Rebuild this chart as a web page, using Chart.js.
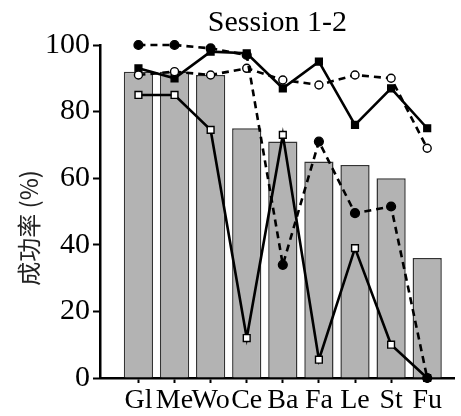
<!DOCTYPE html>
<html>
<head>
<meta charset="utf-8">
<script src="https://cdn.jsdelivr.net/npm/chart.js@4.4.0/dist/chart.umd.min.js"></script>
<style>
  html, body { margin: 0; padding: 0; background: #fff; }
</style>
</head>
<body>
<canvas id="chart" width="461" height="416"></canvas>
<script>
// values
const categories = ['Gl', 'Me', 'Wo', 'Ce', 'Ba', 'Fa', 'Le', 'St', 'Fu'];
const barValues = [92, 92, 91, 75, 71, 65, 64, 60, 36];
const filledCircles = [100, 100, 99, 97, 34, 71, 49.5, 51.5, 0];
const filledSquares = [93, 90, 98, 97.5, 87, 95, 76, 87, 75];
const openCircles = [91, 92, 91, 93, 89.5, 88, 91, 90, 69];
const openSquares = [85, 85, 74.5, 12, 73, 5.5, 39, 10, 0];

const serif = '"Liberation Serif", "Times New Roman", serif';

function toPoints(values) {
    return values.map((v, i) => ({ x: i, y: v }));
}

function lineSet(values, style, filled, dashed) {
    return {
        type: 'line',
        data: toPoints(values),
        borderColor: '#000',
        borderWidth: 2.6,
        borderDash: dashed ? [7, 5] : [],
        pointStyle: style,
        pointRadius: style === 'rect' ? 4.8 : (filled ? 4.4 : 4),
        pointBorderWidth: 1.4,
        pointBorderColor: '#000',
        pointBackgroundColor: filled ? '#000' : '#fff',
        tension: 0,
        clip: false,
        order: 0
    };
}

// rotated y title, drawn by hand so it can sit a bit lower than the axis middle
const yTitle = {
    id: 'yTitle',
    afterDraw(chart) {
        const ctx = chart.ctx;
        ctx.save();
        ctx.translate(29, 228);
        ctx.rotate(-Math.PI / 2);
        ctx.font = '24px "Noto Sans CJK SC"';
        ctx.fillStyle = '#222';
        ctx.textAlign = 'center';
        ctx.textBaseline = 'middle';
        ctx.fillText('成功率 (%)', 0, 0);
        ctx.restore();
    }
};

new Chart(document.querySelector('#chart').getContext('2d'), {
    type: 'bar',
    data: {
        datasets: [
            lineSet(filledCircles, 'circle', true, true),
            lineSet(openCircles, 'circle', false, true),
            lineSet(filledSquares, 'rect', true, false),
            lineSet(openSquares, 'rect', false, false),
            {
                type: 'bar',
                data: toPoints(barValues),
                backgroundColor: '#b3b3b3',
                borderColor: '#333',
                borderWidth: 1.5,
                categoryPercentage: 1,
                barPercentage: 0.81,
                order: 10
            }
        ]
    },
    options: {
        responsive: false,
        animation: false,
        layout: { padding: { left: 0, right: 1, top: 0, bottom: 0 } },
        plugins: {
            legend: { display: false },
            tooltip: { enabled: false },
            title: {
                display: true,
                text: 'Session 1-2',
                fullSize: false,
                color: '#000',
                font: { family: serif, size: 30, weight: 'normal' },
                padding: { top: 5, bottom: 4 }
            }
        },
        scales: {
            x: {
                type: 'linear',
                offset: false,
                min: -1.065,
                max: 8.765,
                afterBuildTicks: axis => {
                    axis.ticks = categories.map((c, i) => ({ value: i }));
                },
                afterFit: axis => {
                    axis.height = 38;
                    axis.paddingLeft = 0;
                    axis.paddingRight = 0;
                },
                ticks: {
                    autoSkip: false,
                    maxRotation: 0,
                    padding: 1,
                    color: '#000',
                    font: { family: serif, size: 28 },
                    callback: v => categories[v]
                },
                grid: { offset: false, drawOnChartArea: false, tickLength: 5, tickWidth: 2, tickColor: '#000' },
                border: { color: '#000', width: 2.5 }
            },
            y: {
                min: 0,
                max: 100,
                afterFit: axis => { axis.width = 100; },
                ticks: {
                    stepSize: 20,
                    padding: 3,
                    color: '#000',
                    font: { family: serif, size: 30 }
                },
                grid: { drawOnChartArea: false, tickLength: 7, tickWidth: 2, tickColor: '#000' },
                border: { color: '#000', width: 2.5 }
            }
        }
    },
    plugins: [yTitle]
});
</script>
</body>
</html>
